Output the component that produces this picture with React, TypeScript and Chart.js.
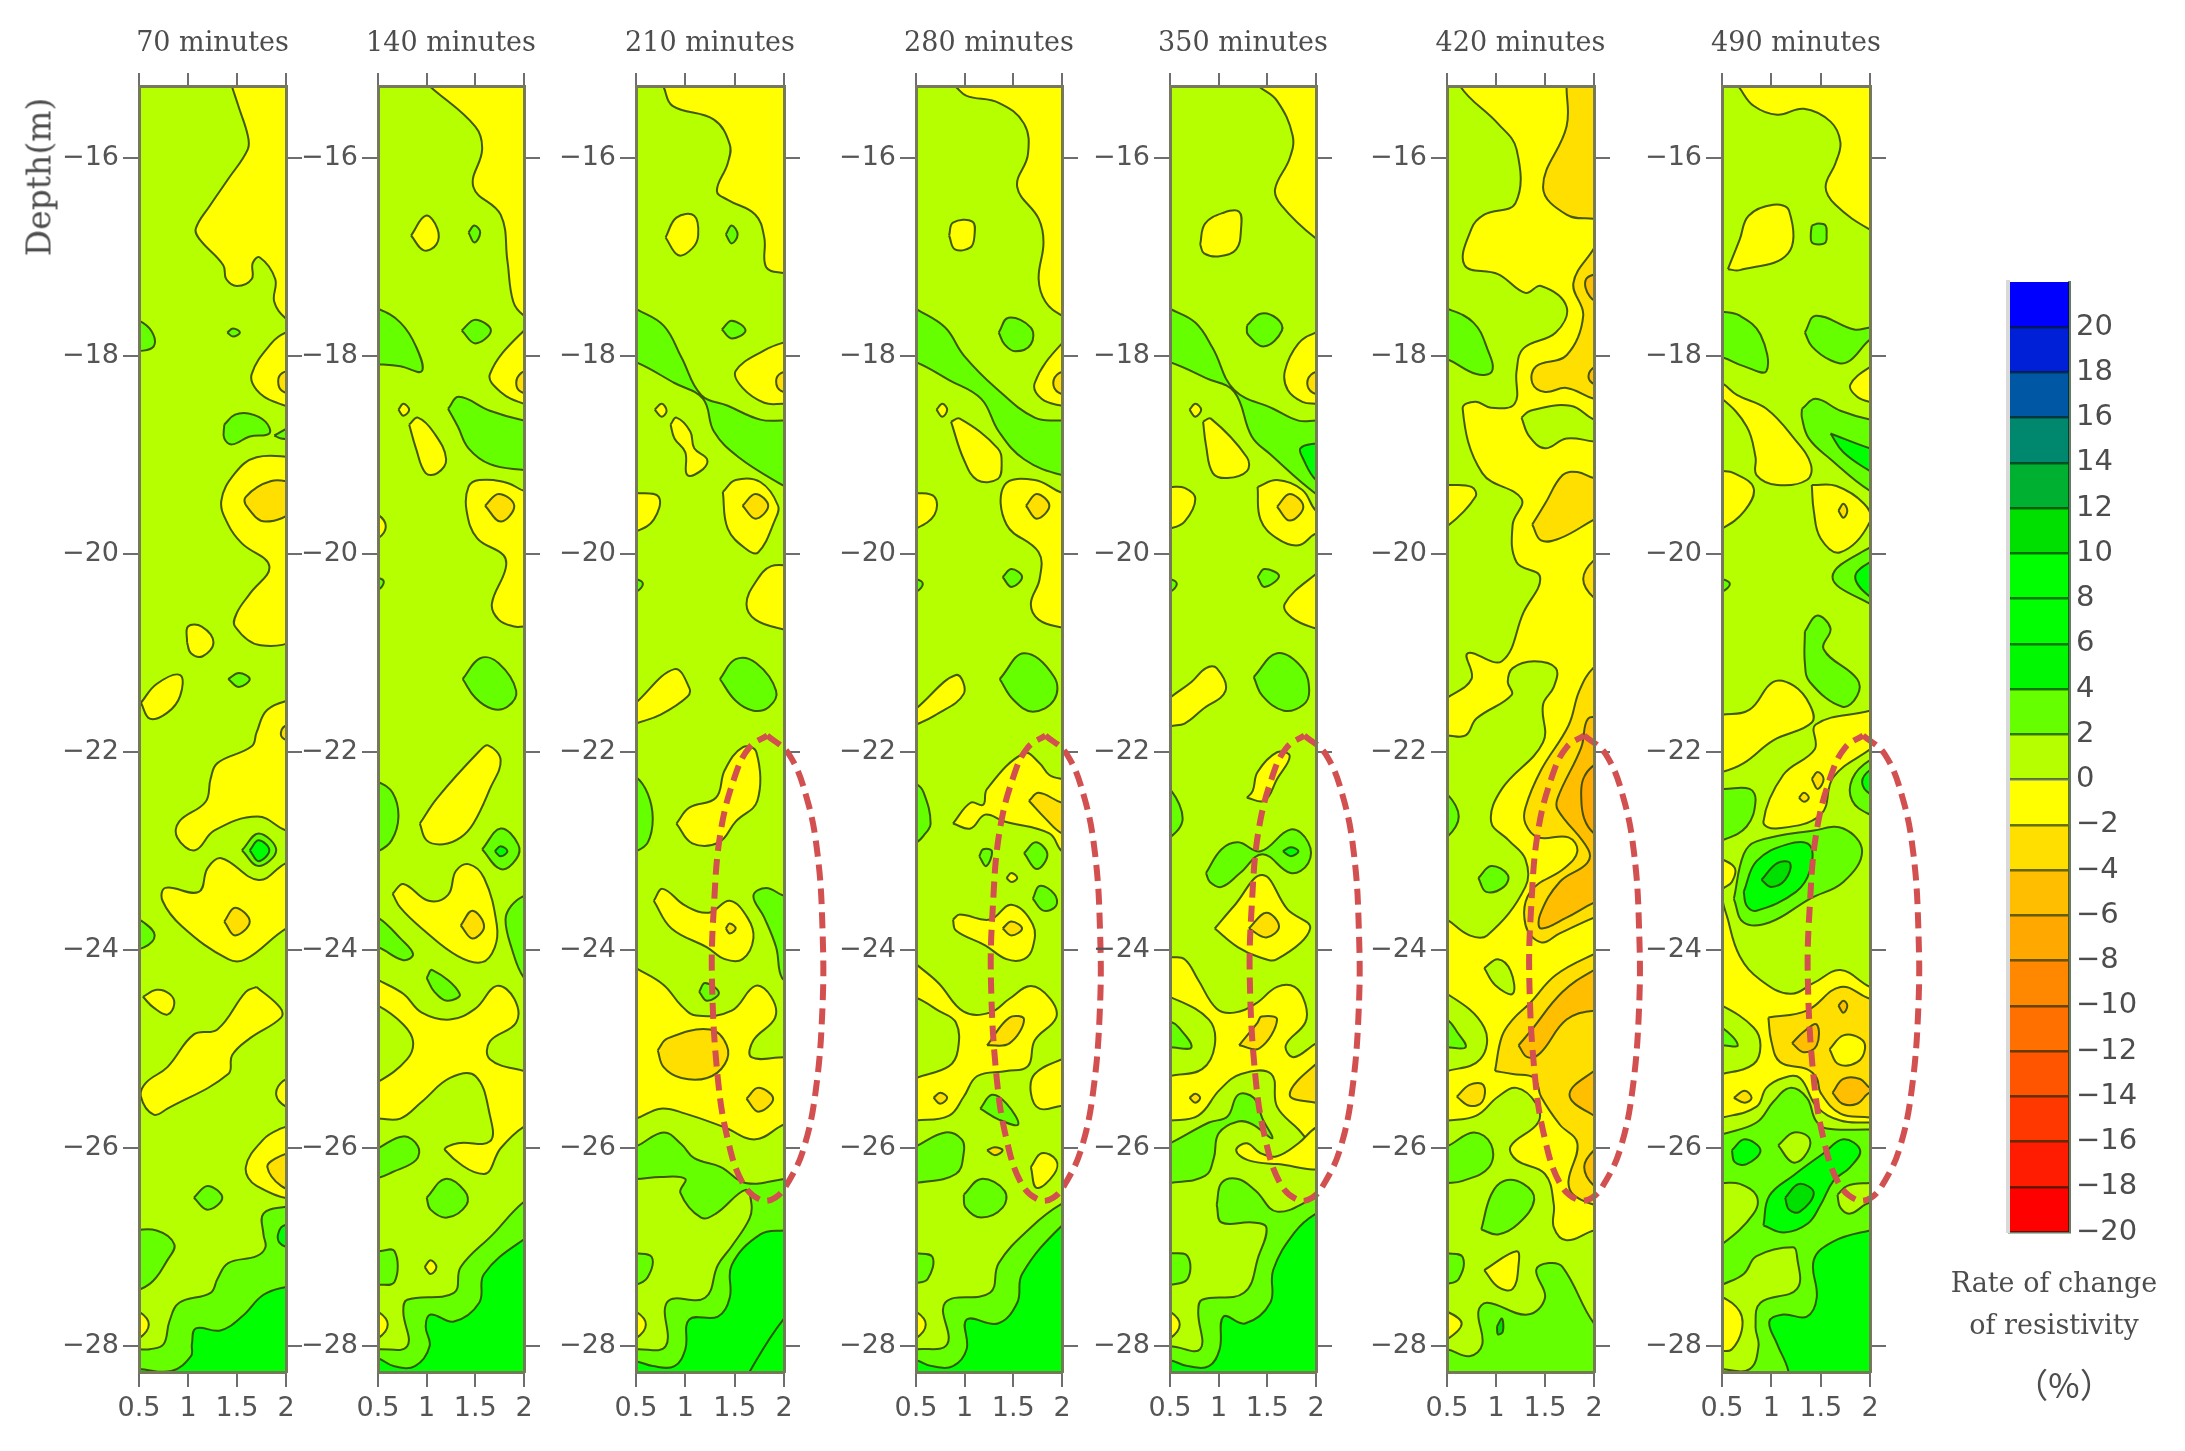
import React, { useEffect, useRef } from "react";
import { Chart, registerables } from "chart.js";
Chart.register(...registerables);

type Region = [number, number[]];

const panelMinutes = [70, 140, 210, 280, 350, 420, 490];
const depthTicks = [-16, -18, -20, -22, -24, -26, -28];
const offsetTicks = [0.5, 1, 1.5, 2];
const legendTicks = [20, 18, 16, 14, 12, 10, 8, 6, 4, 2, 0, -2, -4, -6, -8, -10, -12, -14, -16, -18, -20];
const bandLows = [20, 18, 16, 14, 12, 10, 8, 6, 4, 2, 0, -2, -4, -6, -8, -10, -12, -14, -16, -18, -20];
const bandColors = ["#0000ff", "#0020d8", "#0058a4", "#00886e", "#00b030", "#00e000", "#00ff00", "#00ff00", "#00f800", "#66ff00", "#b6ff00", "#ffff00", "#ffdf00", "#ffbf00", "#ffa800", "#ff8800", "#ff7000", "#ff5500", "#ff3800", "#ff1c00", "#ff0000"];
const levelColors: Record<number, string> = { 0: "#b6ff00", 1: "#66ff00", 2: "#00ff00", 3: "#00e000", [-1]: "#ffff00", [-2]: "#ffdf00", [-3]: "#ffbf00", [-4]: "#ffa800" };

const ellipseX = [1.83, 2.05, 2.23, 2.34, 2.39, 2.39, 2.32, 2.2, 2.05, 1.91, 1.76, 1.58, 1.43, 1.33, 1.27, 1.29, 1.36, 1.51, 1.65, 1.83];
const ellipseDepth = [21.83, 22.02, 22.46, 23.03, 23.78, 24.58, 25.43, 26, 26.33, 26.5, 26.52, 26.35, 25.91, 25.3, 24.3, 23.55, 22.79, 22.22, 21.95, 21.83];
const ellipseShift = [null, null, 0, 0, 0.05, 0.07, 0.1];

const tinyYellowLeft = [.4,27.65,.5,27.65,.6,27.78,.5,27.92,.4,27.92];
const tinyGreenLeft = [.4,20.25,.5,20.25,.57,20.3,.5,20.38,.4,20.38];

const regions70: Region[] = [
  [-1,[1.45,15.28,1.52,15.49,1.61,15.77,1.61,15.91,1.41,16.21,1.23,16.47,1.08,16.71,1.12,16.82,1.36,17.08,1.39,17.22,1.5,17.29,1.65,17.22,1.66,17.06,1.73,17,1.89,17.22,1.88,17.45,2,17.62,2.1,17.65,2.1,15.1,1.45,15.1]],
  [1,[.4,17.64,.5,17.64,.63,17.75,.65,17.9,.5,17.95,.4,17.95]],
  [1,[1.4,17.76,1.46,17.72,1.53,17.76,1.46,17.8]],
  [-1,[2.1,17.76,2,17.76,1.85,17.87,1.65,18.18,1.7,18.34,1.88,18.46,2.1,18.48]],
  [-2,[2.1,18.13,1.96,18.17,1.92,18.25,1.96,18.35,2.1,18.37]],
  [1,[1.37,18.69,1.48,18.59,1.63,18.58,1.79,18.66,1.83,18.78,1.63,18.81,1.45,18.89,1.37,18.83]],
  [1,[1.88,18.8,2.1,18.7,2.1,18.83,1.95,18.83]],
  [-1,[2.1,19.02,1.7,19.02,1.48,19.18,1.34,19.46,1.41,19.7,1.55,19.89,1.83,20.12,1.63,20.4,1.5,20.59,1.48,20.73,1.74,20.92,2.1,20.8]],
  [-2,[2.1,19.28,1.85,19.26,1.59,19.42,1.61,19.53,1.79,19.67,2.1,19.53]],
  [-1,[.99,20.89,1,20.73,1.14,20.73,1.26,20.89,1.15,21.03,1.03,21]],
  [1,[1.41,21.26,1.52,21.2,1.63,21.26,1.52,21.34]],
  [-1,[.52,21.5,.68,21.31,.92,21.22,.92,21.43,.79,21.6,.61,21.66]],
  [-1,[2.1,21.45,1.81,21.57,1.7,21.8,1.65,21.94,1.3,22.11,1.23,22.27,1.18,22.5,.91,22.7,.89,22.86,1.07,22.99,1.27,22.79,1.71,22.65,2,22.79,2.1,22.79]],
  [-2,[2.1,21.7,1.97,21.75,1.96,21.85,2.1,21.88]],
  [1,[1.55,22.99,1.72,22.82,1.9,22.99,1.72,23.15]],
  [2,[1.63,22.99,1.72,22.89,1.83,22.99,1.72,23.1]],
  [-1,[2.1,23.12,2,23.12,1.72,23.29,1.34,23.07,1.2,23.17,1.11,23.41,.77,23.37,.74,23.5,.94,23.76,1.41,24.09,1.59,24.09,2,23.78,2.1,23.78]],
  [-2,[1.37,23.71,1.48,23.57,1.63,23.71,1.48,23.85]],
  [1,[.4,23.65,.55,23.72,.66,23.85,.55,23.97,.4,23.97]],
  [-1,[.54,24.47,.68,24.4,.81,24.44,.86,24.54,.79,24.65,.65,24.58]],
  [-1,[1.7,24.37,1.59,24.42,1.3,24.8,1.06,24.85,.79,25.18,.57,25.34,.52,25.48,.65,25.66,.79,25.6,1.41,25.25,1.45,25.06,1.63,24.89,1.95,24.68,1.94,24.58]],
  [-1,[2.1,25.3,1.97,25.32,1.9,25.46,2,25.58,2.1,25.58]],
  [-1,[2.1,25.76,1.95,25.8,1.77,25.91,1.59,26.19,1.7,26.38,2.1,26.47]],
  [-2,[2.1,26.02,1.9,26.1,1.81,26.19,1.95,26.38,2.1,26.4]],
  [1,[1.06,26.5,1.2,26.38,1.35,26.5,1.2,26.62]],
  [1,[.4,26.83,.68,26.83,.86,26.97,.79,27.13,.61,27.37,.4,27.42]],
  [1,[2.1,26.59,2,26.59,1.77,26.66,1.77,26.87,1.79,27,1.7,27.09,1.41,27.16,1.3,27.32,1.23,27.46,.91,27.56,.81,27.75,.75,27.98,.61,28.03,.5,28.03,.4,28.03,.4,28.4,2.1,28.4]],
  [2,[2.1,26.75,1.95,26.8,1.93,26.95,2.1,27]],
  [2,[2.1,27.4,2,27.4,1.77,27.48,1.55,27.7,1.33,27.84,1.08,27.82,1.04,27.98,1.03,28.1,.83,28.25,.5,28.23,.4,28.23,.4,28.4,2.1,28.4]],
  [-1,tinyYellowLeft],
];

const regions140: Region[] = [
  [-1,[1.04,15.28,1.5,15.68,1.57,15.91,1.48,16.29,1.76,16.57,1.83,17.04,1.89,17.45,2,17.59,2.1,17.6,2.1,15.1,1.04,15.1]],
  [-1,[.84,16.78,.99,16.58,1.11,16.71,1.1,16.87,.97,16.93]],
  [1,[1.43,16.75,1.49,16.68,1.55,16.75,1.49,16.85]],
  [1,[.4,17.52,.5,17.52,.73,17.66,.89,17.9,.95,18.15,.73,18.1,.5,18.08,.4,18.08]],
  [1,[1.36,17.74,1.5,17.63,1.66,17.74,1.5,17.87]],
  [-1,[2.1,17.74,2,17.74,1.65,18.18,1.76,18.36,2,18.48,2.1,18.48]],
  [-2,[2.1,18.13,1.97,18.17,1.92,18.27,1.97,18.36,2.1,18.36]],
  [-1,[.71,18.54,.76,18.48,.82,18.54,.76,18.6]],
  [-1,[.82,18.69,.91,18.62,1.08,18.78,1.2,19.04,1.11,19.18,.99,19.18,.89,18.93]],
  [1,[1.22,18.53,1.33,18.41,1.65,18.55,2,18.65,2.1,18.65,2.1,19.15,2,19.15,1.65,19.09,1.43,18.93,1.32,18.71]],
  [-1,[2.1,19.36,2,19.36,1.83,19.28,1.54,19.25,1.43,19.32,1.41,19.56,1.52,19.84,1.79,20.01,1.81,20.15,1.67,20.5,1.74,20.66,1.9,20.73,2,20.73,2.1,20.73]],
  [-2,[1.6,19.51,1.74,19.39,1.9,19.51,1.76,19.67]],
  [-1,[.4,19.6,.5,19.6,.58,19.72,.5,19.84,.4,19.84]],
  [1,[.4,20.25,.5,20.24,.56,20.28,.5,20.36,.4,20.36]],
  [1,[1.37,21.26,1.55,21.05,1.74,21.1,1.92,21.38,1.83,21.54,1.67,21.56,1.5,21.45]],
  [-1,[.93,22.72,1.11,22.46,1.54,21.99,1.63,21.93,1.76,22.08,1.65,22.37,1.48,22.72,1.35,22.86,1.17,22.93,1,22.89]],
  [1,[.4,22.3,.5,22.3,.65,22.41,.71,22.65,.64,22.89,.5,23,.4,23]],
  [1,[1.57,22.98,1.76,22.77,1.94,22.93,1.92,23.08,1.76,23.18]],
  [2,[1.7,23,1.76,22.95,1.83,23,1.76,23.05]],
  [-1,[.65,23.43,.76,23.33,1.02,23.5,1.22,23.44,1.3,23.2,1.43,23.13,1.59,23.27,1.72,23.74,1.7,23.97,1.57,24.12,1.32,24.06,.95,23.78,.73,23.57]],
  [-2,[1.35,23.75,1.47,23.6,1.59,23.76,1.47,23.88]],
  [1,[2.1,23.45,2,23.45,1.87,23.55,1.81,23.69,1.87,23.97,2,24.28,2.1,24.28]],
  [1,[.4,23.67,.5,23.67,.73,23.88,.86,24.04,.76,24.1,.5,23.97,.4,23.97]],
  [1,[1,24.28,1.06,24.2,1.34,24.44,1.21,24.51,1.08,24.42]],
  [-1,[.5,24.3,.76,24.44,.95,24.63,1.24,24.7,1.5,24.59,1.72,24.36,1.9,24.49,1.92,24.73,1.65,24.92,1.65,25.1,2,25.22,2.1,25.22,2.1,25.78,2,25.78,1.76,26,1.59,26.26,1.19,26.02,1.32,25.95,1.65,25.93,1.65,25.67,1.5,25.27,1.24,25.29,.95,25.53,.73,25.7,.5,25.7,.4,25.7,.4,25.33,.5,25.33,.8,25.1,.86,24.92,.76,24.75,.5,24.56,.4,24.56,.4,24.3]],
  [1,[.4,26.05,.5,26,.76,25.88,.91,25.98,.89,26.12,.65,26.24,.5,26.3,.4,26.3]],
  [1,[1,26.5,1.19,26.31,1.39,26.43,1.41,26.57,1.21,26.7,1.04,26.62]],
  [1,[2.1,26.54,2,26.54,1.68,26.87,1.35,27.2,1.28,27.46,.8,27.53,.76,27.65,.8,28,.5,28.03,.4,28.03,.4,28.4,2.1,28.4]],
  [1,[.4,27.04,.5,27.04,.67,27.04,.67,27.35,.5,27.38,.4,27.38]],
  [-1,[.98,27.2,1.04,27.13,1.1,27.2,1.04,27.27]],
  [-1,tinyYellowLeft],
  [2,[2.1,26.92,2,26.92,1.59,27.27,1.54,27.56,1.28,27.75,1.04,27.68,.99,27.8,1.03,28,.88,28.2,.66,28.2,.5,28.12,.4,28.12,.4,28.4,2.1,28.4]],
];

const regions210: Region[] = [
  [-1,[.78,15.28,.87,15.47,1.29,15.61,1.45,15.86,1.43,16.05,1.32,16.33,1.43,16.42,1.71,16.57,1.8,16.8,1.82,17.1,2,17.16,2.1,17.16,2.1,15.1,.78,15.1]],
  [-1,[.8,16.8,.91,16.6,1.09,16.58,1.13,16.78,1.07,16.91,.93,16.98]],
  [1,[1.41,16.77,1.47,16.68,1.53,16.77,1.47,16.86]],
  [1,[.5,17.52,.78,17.69,.96,18.01,1.16,18.39,1.43,18.5,1.76,18.64,2,18.65,2.1,18.65,2.1,19.35,2,19.31,1.54,19.02,1.29,18.76,1.18,18.43,.89,18.27,.5,18.06,.4,18.06,.4,17.52]],
  [1,[1.37,17.73,1.47,17.64,1.61,17.74,1.47,17.82]],
  [-1,[2.1,17.85,2,17.86,1.8,17.94,1.51,18.15,1.58,18.32,1.8,18.47,2,18.48,2.1,18.48]],
  [-2,[2.1,18.15,1.97,18.17,1.92,18.25,1.97,18.35,2.1,18.35]],
  [-1,[.69,18.54,.76,18.48,.81,18.55,.76,18.61]],
  [-1,[.85,18.69,.91,18.62,1.05,18.76,1.09,18.93,1.22,19.04,1.18,19.14,1.02,19.2,1,18.97,.89,18.83]],
  [-1,[1.38,19.37,1.51,19.25,1.76,19.27,1.94,19.51,1.91,19.65,1.74,19.98,1.62,19.95,1.43,19.74]],
  [-2,[1.58,19.51,1.71,19.39,1.84,19.51,1.71,19.64]],
  [-1,[.4,19.38,.5,19.38,.73,19.42,.68,19.65,.5,19.77,.4,19.77]],
  [-1,[2.1,20.12,1.87,20.12,1.72,20.27,1.62,20.5,1.71,20.66,2,20.76,2.1,20.76]],
  [1,tinyGreenLeft],
  [1,[1.35,21.26,1.51,21.06,1.72,21.1,1.92,21.38,1.85,21.54,1.69,21.58,1.51,21.48]],
  [-1,[.4,21.6,.5,21.5,.89,21.16,1.04,21.35,1.02,21.44,.75,21.62,.5,21.71,.4,21.75]],
  [1,[.4,22.25,.5,22.25,.62,22.42,.67,22.67,.62,22.91,.5,23,.4,23]],
  [-1,[.91,22.72,1.04,22.56,1.31,22.46,1.4,22.18,1.58,21.95,1.72,22,1.73,22.49,1.51,22.7,1.34,22.91,1.07,22.92]],
  [-1,[.68,23.5,.77,23.38,1,23.55,1.24,23.62,1.45,23.5,1.63,23.67,1.69,23.88,1.58,24.09,1.4,24.09,1.22,23.97,.86,23.78]],
  [-2,[1.41,23.78,1.45,23.73,1.51,23.78,1.45,23.83]],
  [1,[2.1,23.45,2,23.45,1.82,23.37,1.69,23.45,1.8,23.67,1.92,23.97,1.98,24.28,2.1,24.28]],
  [1,[1.14,24.42,1.2,24.33,1.34,24.43,1.22,24.51]],
  [-1,[.5,24.18,.78,24.35,.96,24.56,1.11,24.66,1.47,24.61,1.71,24.36,1.87,24.47,1.91,24.68,1.69,24.91,1.67,25.08,2,25.08,2.1,25.08,2.1,25.75,2,25.76,1.71,25.91,1.4,25.79,1,25.65,.75,25.6,.5,25.7,.4,25.7,.4,24.18]],
  [-2,[.72,25.01,.82,24.89,1.25,24.8,1.42,24.96,1.4,25.15,1.22,25.29,.96,25.29,.78,25.18]],
  [-2,[1.62,25.5,1.74,25.39,1.89,25.5,1.74,25.63]],
  [1,[.4,25.98,.5,25.98,.78,25.84,.96,25.96,1.09,26.1,1.36,26.19,1.61,26.35,2,26.31,2.1,26.28,2.1,28.4,.4,28.4]],
  [0,[.4,26.3,.5,26.31,.75,26.29,1,26.31,.95,26.45,1.16,26.7,1.31,26.66,1.61,26.42,1.67,26.56,1.65,26.71,1.47,26.99,1.33,27.18,1.2,27.51,.82,27.55,.8,28,.5,28.03,.4,28.03]],
  [2,[2.1,26.83,2,26.83,1.76,26.87,1.47,27.18,1.45,27.51,1.33,27.7,1.04,27.73,1,28.03,.89,28.2,.67,28.2,.5,28.15,.4,28.15,.4,28.4,2.1,28.4]],
  [2,[2.1,27.7,2,27.72,1.65,28.26,1.6,28.4,2.1,28.4]],
  [1,[.4,27.06,.5,27.06,.66,27.1,.62,27.3,.5,27.38,.4,27.38]],
  [-1,tinyYellowLeft],
];

const regions280: Region[] = [
  [-1,[.91,15.28,1.02,15.37,1.35,15.44,1.61,15.65,1.65,15.96,1.54,16.29,1.76,16.61,1.81,16.85,1.76,17.22,1.83,17.45,2,17.59,2.1,17.6,2.1,15.1,.91,15.1]],
  [-1,[.84,16.78,.88,16.65,1.08,16.64,1.1,16.79,1.06,16.9,.9,16.92]],
  [1,[1.35,17.76,1.45,17.61,1.68,17.71,1.68,17.88,1.52,17.95,1.41,17.88]],
  [1,[.5,17.52,.8,17.71,.99,17.99,1.32,18.32,1.72,18.62,2,18.65,2.1,18.65,2.1,19.16,2,19.2,1.61,19.04,1.35,18.76,1.17,18.43,.84,18.24,.5,18.06,.4,18.06,.4,17.52]],
  [-1,[2.1,17.87,2,17.87,1.72,18.27,1.79,18.43,2,18.5,2.1,18.5]],
  [-2,[2.1,18.15,1.97,18.17,1.91,18.27,1.97,18.37,2.1,18.37]],
  [-1,[.71,18.54,.77,18.48,.82,18.54,.77,18.61]],
  [-1,[.86,18.66,.95,18.63,1.34,18.93,1.38,19.09,1.34,19.24,1.13,19.25,.99,19.04]],
  [-1,[2.1,19.38,2,19.38,1.72,19.25,1.41,19.3,1.43,19.7,1.76,19.98,1.77,20.25,1.68,20.5,1.76,20.66,2,20.74,2.1,20.74]],
  [-2,[1.63,19.51,1.74,19.39,1.87,19.51,1.74,19.64]],
  [-1,[.4,19.38,.5,19.38,.69,19.42,.69,19.6,.5,19.74,.4,19.74]],
  [1,[1.39,20.23,1.48,20.15,1.59,20.23,1.48,20.33]],
  [1,tinyGreenLeft],
  [1,[1.36,21.26,1.61,21,1.92,21.24,1.92,21.47,1.7,21.59,1.5,21.47]],
  [-1,[.4,21.63,.5,21.56,.91,21.22,.99,21.41,.69,21.63,.5,21.72,.4,21.75]],
  [1,[.4,22.32,.5,22.32,.58,22.41,.65,22.72,.58,22.84,.5,22.91,.4,22.91]],
  [-1,[.88,22.72,1.06,22.51,1.19,22.53,1.23,22.37,1.61,22.01,1.77,22.11,1.87,22.23,2,22.27,2.1,22.27,2.1,23,2,23,1.87,22.82,1.41,22.7,1.21,22.63,1.06,22.77]],
  [-2,[1.66,22.49,1.76,22.41,2,22.51,2.1,22.51,2.1,22.8,2,22.82,1.83,22.67]],
  [1,[1.15,23.05,1.19,22.98,1.28,23,1.22,23.15]],
  [1,[1.61,23.02,1.73,22.91,1.85,23.03,1.74,23.18]],
  [-1,[1.43,23.27,1.48,23.22,1.54,23.27,1.48,23.31]],
  [1,[1.7,23.48,1.77,23.35,1.92,23.43,1.94,23.55,1.81,23.6]],
  [-1,[.88,23.69,.95,23.64,1.26,23.69,1.48,23.54,1.7,23.74,1.7,23.97,1.61,24.09,1.43,24.09,1.21,23.95,.91,23.8]],
  [-2,[1.39,23.78,1.48,23.71,1.59,23.78,1.48,23.85]],
  [-1,[.5,24.14,.73,24.33,.99,24.62,1.26,24.63,1.46,24.49,1.68,24.36,1.88,24.49,1.94,24.68,1.72,24.91,1.65,25.17,1.43,25.22,1.13,25.27,.99,25.48,.84,25.67,.5,25.72,.4,25.72,.4,25.33,.5,25.29,.84,25.17,.93,25.01,.91,24.73,.73,24.61,.5,24.48,.4,24.48,.4,24.14]],
  [-2,[1.23,24.96,1.46,24.68,1.61,24.7,1.46,24.94]],
  [-2,[.68,25.49,.75,25.44,.82,25.49,.75,25.55]],
  [-1,[2.1,25.08,2,25.1,1.72,25.25,1.68,25.44,1.77,25.6,2,25.57,2.1,25.57]],
  [1,[1.16,25.6,1.28,25.46,1.43,25.55,1.55,25.76,1.35,25.71]],
  [1,[.4,26.02,.5,25.98,.8,25.84,.97,25.91,.99,26.05,.91,26.26,.5,26.35,.4,26.35]],
  [-2,[1.23,26.02,1.31,25.99,1.39,26.02,1.31,26.07]],
  [-1,[1.68,26.19,1.79,26.05,1.94,26.12,1.92,26.26,1.74,26.4]],
  [1,[.99,26.47,1.17,26.31,1.41,26.43,1.39,26.6,1.17,26.7,1.01,26.6]],
  [1,[2.1,26.56,2,26.56,1.68,26.8,1.35,27.16,1.26,27.46,.8,27.56,.82,27.98,.5,28.03,.4,28.03,.4,28.4,2.1,28.4]],
  [1,[.4,27.06,.5,27.06,.67,27.1,.62,27.32,.5,27.36,.4,27.36]],
  [-1,tinyYellowLeft],
  [2,[2.1,26.78,2,26.78,1.59,27.27,1.54,27.56,1.34,27.77,1.02,27.73,1.02,28.03,.88,28.2,.66,28.2,.5,28.14,.4,28.14,.4,28.4,2.1,28.4]],
];

const regions350: Region[] = [
  [-1,[1.42,15.28,1.6,15.42,1.76,15.77,1.73,16,1.58,16.31,1.64,16.47,2,16.81,2.1,16.82,2.1,15.1,1.42,15.1]],
  [-1,[.81,16.87,.86,16.66,1.05,16.55,1.21,16.54,1.23,16.71,1.18,16.92,1.01,16.99,.85,16.96]],
  [1,[1.29,17.69,1.43,17.57,1.6,17.62,1.65,17.74,1.47,17.9,1.3,17.78]],
  [1,[.5,17.52,.76,17.66,.94,17.92,1.16,18.34,1.56,18.53,1.82,18.65,2,18.65,2.1,18.65,2.1,19.4,2,19.39,1.53,18.99,1.34,18.81,1.16,18.36,.87,18.22,.5,18.06,.4,18.06,.4,17.52]],
  [2,[2.1,18.88,2,18.88,1.84,18.93,1.87,19.04,2,19.25,2.1,19.25]],
  [-1,[2.1,17.76,2,17.76,1.82,17.87,1.68,18.15,1.71,18.34,1.86,18.46,2,18.48,2.1,18.48]],
  [-2,[2.1,18.15,1.97,18.17,1.91,18.27,1.97,18.37,2.1,18.37]],
  [-1,[.7,18.54,.76,18.48,.82,18.54,.76,18.61]],
  [-1,[.84,18.66,.92,18.63,1.29,19.02,1.29,19.16,1.09,19.23,.94,19.18,.87,18.9]],
  [-1,[1.4,19.32,1.6,19.25,1.86,19.35,2,19.56,2.1,19.56,2.1,19.8,2,19.79,1.82,19.91,1.6,19.84,1.43,19.65]],
  [-2,[1.6,19.52,1.73,19.39,1.87,19.52,1.73,19.66]],
  [-1,[.4,19.32,.5,19.32,.65,19.33,.76,19.44,.65,19.67,.5,19.74,.4,19.74]],
  [1,[1.4,20.23,1.47,20.15,1.62,20.22,1.47,20.33]],
  [1,tinyGreenLeft],
  [-1,[2.1,20.17,2,20.2,1.68,20.5,1.75,20.64,2,20.75,2.1,20.75]],
  [1,[1.36,21.24,1.6,21,1.86,21.15,1.93,21.38,1.87,21.52,1.67,21.58,1.45,21.43]],
  [-1,[.4,21.55,.5,21.45,.72,21.29,.87,21.15,.98,21.15,1.07,21.38,.83,21.57,.65,21.71,.5,21.74,.4,21.8]],
  [1,[.4,22.37,.5,22.37,.63,22.67,.5,22.86,.4,22.86]],
  [-1,[1.29,22.46,1.35,22.39,1.4,22.2,1.6,22,1.73,22.04,1.6,22.27,1.47,22.49]],
  [1,[.87,23.22,1.03,22.98,1.2,22.91,1.43,23,1.74,22.78,1.92,22.91,1.92,23.12,1.74,23.22,1.45,23.03,1.22,23.22,1.03,23.36,.91,23.31]],
  [2,[1.66,23,1.74,22.96,1.82,23,1.74,23.05]],
  [-1,[.96,23.78,1.16,23.55,1.45,23.24,1.71,23.59,1.94,23.78,1.6,24.09,1.42,24.07,1.2,23.97]],
  [-2,[1.31,23.78,1.49,23.62,1.62,23.76,1.49,23.87]],
  [-1,[.5,24.07,.65,24.09,.79,24.3,.98,24.59,1.16,24.63,1.38,24.54,1.6,24.37,1.78,24.37,1.89,24.54,1.89,24.73,1.69,24.96,1.77,25.08,2,24.94,2.1,24.9,2.1,26,2,26,1.82,25.81,1.6,25.58,1.54,25.25,1.23,25.25,1.01,25.41,.79,25.67,.5,25.72,.4,25.72,.4,25.3,.5,25.27,.83,25.2,.96,24.96,.9,24.7,.5,24.47,.4,24.47,.4,24.07]],
  [-1,[2.1,25.79,2,25.79,1.82,25.95,1.6,26.08,1.43,26.05,1.29,25.95,1.18,26.02,1.3,26.12,1.6,26.16,2.1,26.18]],
  [-2,[1.21,24.96,1.4,24.73,1.44,24.67,1.6,24.7,1.42,24.99]],
  [-2,[2.1,25.15,2,25.15,1.73,25.46,2,25.54,2.1,25.54]],
  [-2,[.7,25.49,.76,25.45,.81,25.49,.76,25.54]],
  [1,[.4,25.98,.5,25.95,.9,25.74,1.09,25.68,1.2,25.46,1.36,25.49,1.45,25.7,1.55,25.9,1.35,25.76,1.2,25.73,1,25.85,.95,26.1,.86,26.28,.5,26.35,.4,26.35]],
  [1,[.4,24.72,.5,24.72,.59,24.78,.72,24.98,.5,24.98,.4,24.98]],
  [1,[.98,26.57,1.03,26.35,1.2,26.31,1.38,26.43,1.6,26.64,2,26.5,2.1,26.48,2.1,28.4,.4,28.4,.4,28.03,.5,28,.81,28.03,.79,27.65,.83,27.53,1.26,27.46,1.41,27.09,1.49,26.8,1.35,26.75,1.03,26.75]],
  [1,[.4,27.06,.5,27.06,.68,27.09,.68,27.32,.5,27.38,.4,27.38]],
  [-1,tinyYellowLeft],
  [2,[2.1,26.66,2,26.66,1.78,26.85,1.56,27.23,1.53,27.56,1.27,27.77,1.05,27.7,1.01,28.03,.9,28.2,.68,28.2,.5,28.14,.4,28.14,.4,28.4,2.1,28.4]],
];

const regions420: Region[] = [
  [-1,[.64,15.1,.64,15.28,1.02,15.65,1.21,15.91,1.2,16.45,.88,16.57,.75,16.71,.68,17.08,1.02,17.17,1.3,17.36,1.46,17.29,1.72,17.5,1.61,17.76,1.28,17.92,1.21,18.15,1.19,18.48,.95,18.52,.79,18.46,.66,18.53,.86,19.18,1.26,19.44,1.17,19.7,1.21,20.08,1.45,20.23,1.28,20.59,1.06,21.08,.71,21,.75,21.26,.5,21.45,.4,21.5,.4,21.83,.5,21.83,.69,21.83,.8,21.66,1.16,21.42,1.12,21.29,1.17,21.15,1.39,21.08,1.61,21.15,1.59,21.34,1.48,21.52,1.48,21.9,1.06,22.37,.95,22.7,1.13,22.89,1.3,23.08,1.3,23.36,.91,23.85,.73,23.85,.5,23.69,.4,23.65,.4,24.48,.5,24.44,.88,24.78,.84,25.1,.5,25.22,.4,25.22,.4,25.72,.5,25.72,.8,25.67,1.02,25.48,1.21,25.39,1.41,25.55,1.43,25.74,1.15,25.98,1.21,26.12,1.5,26.26,1.59,26.57,1.59,26.8,1.72,26.93,2,26.83,2.1,26.83,2.1,15.1]],
  [0,[.88,24.18,1.02,24.09,1.15,24.21,1.17,24.44,.99,24.35]],
  [0,[1.26,18.62,1.35,18.55,1.76,18.5,2,18.64,2.1,18.64,2.1,18.86,2,18.86,1.72,18.83,1.5,18.93,1.34,18.81]],
  [1,[.4,17.52,.5,17.52,.77,17.66,.91,17.92,.96,18.15,.8,18.18,.5,18.03,.4,18.03]],
  [-1,[.4,19.3,.5,19.3,.75,19.32,.79,19.42,.5,19.72,.4,19.72]],
  [-2,[1.72,15.1,1.72,15.28,1.72,15.68,1.48,16.29,1.72,16.57,2,16.61,2.1,16.61,2.1,15.1]],
  [-2,[2,16.91,1.79,17.26,1.89,17.59,1.72,17.99,1.41,18.1,1.37,18.27,1.5,18.36,1.72,18.32,2,18.43,2.1,18.43,2.1,16.91]],
  [-3,[2.1,17.15,1.92,17.22,1.96,17.4,2.1,17.45]],
  [-3,[2.1,18.05,1.96,18.15,1.96,18.25,2.1,18.3]],
  [-2,[1.37,19.7,1.5,19.49,1.68,19.2,1.83,19.17,2,19.23,2.1,19.23,2.1,19.6,2,19.65,1.65,19.84,1.46,19.86]],
  [-2,[2.1,20.06,2,20.06,1.89,20.25,2,20.44,2.1,20.44]],
  [-2,[2.1,21.14,2,21.14,1.85,21.38,1.74,21.73,1.46,22.18,1.3,22.56,1.3,22.72,1.43,22.86,1.74,22.86,1.83,23,1.7,23.17,1.35,23.41,1.3,23.74,1.46,23.92,1.65,23.83,2,23.67,2.1,23.65]],
  [-3,[2.1,21.66,1.94,21.66,1.87,21.95,1.63,22.46,1.63,22.58,1.94,22.98,1.93,23.12,1.65,23.31,1.45,23.64,1.46,23.78,1.72,23.67,2,23.52,2.1,23.5]],
  [-4,[2.1,22.12,2,22.13,1.89,22.27,1.87,22.46,1.9,22.67,2,22.82,2.1,22.84]],
  [-2,[.99,25.22,1.06,24.87,1.17,24.7,1.35,24.53,1.61,24.25,2,24.04,2.1,24.02,2.1,26.57,2,26.57,1.79,26.47,1.74,26.33,1.83,25.95,1.65,25.76,1.46,25.48,1.39,25.29,1.17,25.25]],
  [-3,[1.23,24.96,1.35,24.82,1.68,24.42,2,24.2,2.1,24.18,2.1,24.64,2,24.61,1.72,24.7,1.45,25.04,1.32,25.08]],
  [-3,[2.1,25.2,2,25.22,1.75,25.46,2,25.67,2.1,25.67]],
  [-3,[2.1,26,2,26.02,1.9,26.19,2,26.38,2.1,26.38]],
  [1,[.82,23.27,.95,23.15,1.12,23.24,1.08,23.36,.9,23.41]],
  [1,[.4,22.42,.5,22.42,.62,22.65,.5,22.86,.4,22.86]],
  [1,[.4,24.7,.5,24.7,.6,24.82,.69,24.98,.5,24.98,.4,24.98]],
  [-2,[.6,25.48,.73,25.36,.87,25.36,.86,25.53,.73,25.57]],
  [1,[.4,25.98,.5,25.98,.77,25.84,.95,25.96,.93,26.19,.66,26.33,.5,26.35,.4,26.35]],
  [1,[.85,26.82,.95,26.47,1.08,26.33,1.28,26.36,1.39,26.52,1.23,26.76,1.02,26.87]],
  [-1,[.88,27.23,1.21,27.04,1.23,27.18,1.17,27.42,1.02,27.4]],
  [1,[.4,27.06,.5,27.06,.66,27.1,.62,27.32,.5,27.37,.4,27.37]],
  [-1,[.4,27.65,.5,27.65,.65,27.77,.5,27.93,.4,27.93]],
  [1,[2.1,27.77,2,27.77,1.68,27.2,1.54,27.16,1.41,27.23,1.5,27.51,1.32,27.68,.91,27.56,.82,27.65,.86,27.98,.73,28.1,.5,28.03,.4,28.03,.4,28.4,2.1,28.4]],
  [3,[1.01,27.8,1.06,27.72,1.07,27.85,1.02,27.88]],
];

const regions490: Region[] = [
  [-1,[.67,15.28,.82,15.47,1.06,15.56,1.33,15.5,1.6,15.63,1.7,15.84,1.65,16.05,1.55,16.29,1.65,16.47,2,16.72,2.1,16.72,2.1,15.1,.67,15.1]],
  [-1,[.56,17.12,.68,16.82,.77,16.58,1.02,16.47,1.18,16.53,1.17,16.96,.68,17.13]],
  [1,[1.41,16.68,1.48,16.66,1.55,16.68,1.56,16.77,1.55,16.85,1.48,16.87,1.41,16.85,1.4,16.77]],
  [1,[.4,17.55,.5,17.55,.68,17.59,.89,17.78,.95,18.15,.72,18.1,.5,18.01,.4,18.01]],
  [1,[1.34,17.76,1.45,17.59,1.84,17.73,2,17.71,2.1,17.71,2.1,17.8,2,17.83,1.77,18.06,1.6,18.04,1.41,17.9]],
  [-1,[2.1,18.1,2,18.11,1.8,18.29,1.87,18.41,2,18.46,2.1,18.46]],
  [-1,[.4,18.25,.5,18.27,.65,18.39,.95,18.53,1.23,18.83,1.4,19.09,1.36,19.25,1.06,19.3,.85,19.2,.84,19.02,.75,18.71,.5,18.43,.4,18.43]],
  [1,[1.31,18.53,1.45,18.43,1.7,18.55,2,18.64,2.1,18.64,2.1,19.35,2,19.36,1.6,19.04,1.38,18.83,1.31,18.62]],
  [2,[1.6,18.78,2,18.93,2.1,18.95,2.1,19.2,2,19.16,1.73,18.97]],
  [-1,[1.41,19.3,1.66,19.31,1.94,19.49,2,19.67,1.7,19.98,1.5,19.84,1.43,19.56]],
  [-2,[1.68,19.56,1.73,19.49,1.77,19.56,1.73,19.63]],
  [-1,[.4,19.16,.5,19.16,.62,19.18,.82,19.33,.73,19.56,.5,19.74,.4,19.74]],
  [1,[2.1,19.94,2,19.93,1.62,20.23,2,20.5,2.1,20.5]],
  [2,[2.1,20.08,2,20.08,1.85,20.23,2,20.43,2.1,20.43]],
  [1,[.4,20.25,.5,20.25,.58,20.3,.5,20.38,.4,20.38]],
  [1,[1.34,20.78,1.46,20.62,1.6,20.75,1.53,20.96,1.87,21.26,1.87,21.43,1.72,21.54,1.39,21.29,1.34,21.1]],
  [-1,[.4,21.62,.5,21.62,.78,21.57,1.02,21.29,1.23,21.33,1.39,21.52,1.41,21.7,1.02,21.88,.72,22.11,.5,22.2,.4,22.2]],
  [-1,[2.1,21.55,2,21.58,1.45,21.72,1.44,21.97,1.12,22.23,.92,22.7,1.05,22.77,1.5,22.63,1.63,22.25,2,21.97,2.1,21.9]],
  [-2,[1.41,22.27,1.47,22.2,1.53,22.27,1.47,22.37]],
  [-2,[1.28,22.46,1.33,22.41,1.38,22.46,1.33,22.5]],
  [1,[2.1,22.1,2,22.08,1.82,22.27,1.82,22.49,2,22.63,2.1,22.63]],
  [2,[2.1,22.17,2,22.18,1.92,22.3,2,22.42,2.1,22.42]],
  [1,[.4,22.35,.5,22.37,.78,22.37,.84,22.49,.75,22.75,.5,22.89,.4,22.89]],
  [-1,[.4,23.05,.5,23.08,.63,23.17,.6,23.31,.5,23.4,.56,23.69,.68,24.06,.89,24.3,1.19,24.44,1.43,24.33,1.7,24.2,2,24.37,2.1,24.37,2.1,25.74,2,25.74,1.7,25.72,1.46,25.58,1.29,25.29,1.12,25.29,.95,25.39,.85,25.58,.5,25.69,.4,25.69,.4,25.25,.5,25.25,.82,25.15,.89,24.96,.82,24.78,.5,24.56,.4,24.56,.4,23.4]],
  [1,[.4,24.78,.5,24.78,.66,24.96,.5,24.96,.4,24.96]],
  [1,[.62,23.48,.72,23.03,.85,22.9,1.43,22.79,1.73,22.77,1.92,23,1.73,23.31,1.39,23.48,.98,23.72,.72,23.72]],
  [2,[.72,23.41,.85,23.1,1.16,22.93,1.39,22.94,1.39,23.2,1.25,23.41,.85,23.6,.75,23.55]],
  [3,[.9,23.29,1.06,23.12,1.19,23.12,1.14,23.29,1,23.36]],
  [-2,[.97,24.68,1.36,24.61,1.7,24.37,2,24.49,2.1,24.49,2.1,25.72,2,25.69,1.7,25.65,1.5,25.44,1.46,25.29,1.36,25.2,1.09,25.13,1,24.92]],
  [-3,[1.21,24.94,1.33,24.82,1.46,24.75,1.46,24.96,1.33,25.03]],
  [-1,[1.59,25,1.73,24.86,1.9,24.89,1.95,24.99,1.87,25.13,1.68,25.15]],
  [-3,[1.68,24.56,1.73,24.51,1.77,24.56,1.73,24.63]],
  [-3,[1.62,25.44,1.73,25.3,1.9,25.3,2,25.39,2.1,25.39,2.1,25.5,2,25.44,1.87,25.55,1.72,25.55]],
  [-2,[.62,25.49,.73,25.42,.8,25.49,.73,25.54]],
  [1,[.5,25.86,.85,25.74,1.02,25.53,1.19,25.39,1.36,25.49,1.45,25.72,1.56,25.8,2,25.81,2.1,25.81,2.1,28.4,.4,28.4,.4,25.86]],
  [0,[.4,26.35,.5,26.35,.68,26.36,.85,26.48,.82,26.66,.5,26.97,.4,26.97]],
  [0,[.5,27.38,.72,27.27,.85,27.09,1.22,27,1.26,27.09,1.26,27.42,.89,27.56,.84,27.8,.87,28,.78,28.23,.5,28.23,.4,28.2,.4,27.38]],
  [0,[1.07,25.97,1.23,25.84,1.39,25.91,1.33,26.09,1.21,26.14]],
  [0,[1.67,26.47,1.77,26.38,2,26.35,2.1,26.35,2.1,26.62,2,26.55,1.8,26.66,1.7,26.6]],
  [-1,[.4,27.5,.5,27.5,.68,27.65,.7,27.84,.6,28.03,.5,28.05,.4,28.05]],
  [2,[.6,26.02,.73,25.91,.89,26.02,.75,26.16,.63,26.14]],
  [2,[.92,26.78,.98,26.48,1.23,26.27,1.53,26.05,1.73,25.91,1.9,26.02,1.8,26.19,1.63,26.33,1.5,26.57,1.37,26.76,1.13,26.85]],
  [3,[1.14,26.5,1.28,26.36,1.43,26.45,1.29,26.64,1.18,26.62]],
  [2,[2.1,26.83,2,26.83,1.63,26.94,1.43,27.13,1.46,27.51,1.36,27.7,1.12,27.68,.98,27.75,1.06,27.98,1.17,28.24,1.17,28.4,2.1,28.4]],
];

const panelRegions = [regions70, regions140, regions210, regions280, regions350, regions420, regions490];
const plotLefts = [139, 378, 636, 916, 1170, 1447, 1722];
const plotWidths = [147, 146, 148, 146, 146, 147, 148];
const PLOT_TOP = 86;
const PLOT_BOTTOM = 1372;
const PAGE_H = 1451;
const MARGIN_L = 130;
const MARGIN_R = 75;

const AXIS_COLOR = "#76785c";
const TEXT_COLOR = "#555555";
const fmt = (v: number) => (v < 0 ? "\u2212" + Math.abs(v) : String(v));

function pairs(flat: number[]) {
  const pts = [];
  for (let i = 0; i < flat.length; i += 2) pts.push({ x: flat[i], y: -flat[i + 1] });
  pts.push({ ...pts[0] });
  return pts;
}

function panelConfig(p: number): any {
  const ds: any[] = [{
    data: [{ x: 0.4, y: -15.1 }, { x: 2.1, y: -15.1 }, { x: 2.1, y: -28.4 }, { x: 0.4, y: -28.4 }, { x: 0.4, y: -15.1 }],
    showLine: true, fill: "shape", backgroundColor: levelColors[0], borderWidth: 0, pointRadius: 0, tension: 0,
  }];
  for (const [level, flat] of panelRegions[p]) {
    ds.push({
      data: pairs(flat), showLine: true, fill: "shape", backgroundColor: levelColors[level],
      borderColor: "rgba(50,70,0,0.9)", borderWidth: 2, pointRadius: 0, tension: 0.4, capBezierPoints: false,
    });
  }
  const shift = ellipseShift[p];
  if (shift !== null) {
    ds.push({
      data: ellipseX.map((x, i) => ({ x: x + shift, y: -ellipseDepth[i] })), showLine: true, fill: false,
      borderColor: "#d2504f", borderWidth: 6, borderDash: [16, 8], pointRadius: 0, tension: 0.4, clip: false, capBezierPoints: false,
    });
  }
  ds.reverse(); // Chart.js paints the first dataset last, so the background goes at the end of the list
  const fixH = (h: number) => (s: any) => { s.height = h; };
  const fixW = (w: number) => (s: any) => { s.width = w; };
  const setY = (s: any) => { s.ticks = depthTicks.map((value) => ({ value })); };
  const setX = (s: any) => { s.ticks = offsetTicks.map((value) => ({ value })); };
  const gridCfg = { drawOnChartArea: false, tickLength: 15, color: "#6e6e6e", lineWidth: 2 };
  const border = { color: AXIS_COLOR, width: 3, z: 1 };
  const tickFont = { family: "'DejaVu Sans'", size: 27 };
  return {
    type: "scatter",
    data: { datasets: ds },
    options: {
      animation: false, responsive: false, devicePixelRatio: 1,
      layout: { padding: 0 },
      plugins: { legend: { display: false }, tooltip: { enabled: false } },
      scales: {
        x: {
          type: "linear", position: "bottom", min: 0.5, max: 2, afterBuildTicks: setX, afterFit: fixH(PAGE_H - PLOT_BOTTOM),
          ticks: { font: tickFont, color: TEXT_COLOR, maxRotation: 0, autoSkip: false, padding: 6, callback: (v: number) => String(v) },
          grid: gridCfg, border,
        },
        xTop: {
          type: "linear", position: "top", min: 0.5, max: 2, afterBuildTicks: setX, afterFit: fixH(PLOT_TOP),
          ticks: { display: false }, grid: { ...gridCfg, tickLength: 13 }, border,
        },
        y: {
          type: "linear", position: "left", min: -28.26, max: -15.27, afterBuildTicks: setY, afterFit: fixW(MARGIN_L),
          ticks: { font: tickFont, color: TEXT_COLOR, padding: 4, autoSkip: false, callback: (v: number) => fmt(v) },
          grid: { ...gridCfg, tickLength: 16 }, border,
        },
        yRight: {
          type: "linear", position: "right", min: -28.26, max: -15.27, afterBuildTicks: setY, afterFit: fixW(MARGIN_R),
          ticks: { display: false }, grid: { ...gridCfg, tickLength: 16 }, border,
        },
      },
    },
  };
}

function legendConfig(): any {
  const fixW = (w: number) => (s: any) => { s.width = w; };
  const setTicks = (s: any) => { s.ticks = legendTicks.map((value) => ({ value })); };
  return {
    type: "bar",
    data: {
      labels: ["Rate of change of resistivity"],
      datasets: bandLows.map((lo, i) => ({
        data: [[lo, lo + 2]], backgroundColor: bandColors[i], borderWidth: 0, categoryPercentage: 1, barPercentage: 1, grouped: false,
      })),
    },
    options: {
      animation: false, responsive: false, devicePixelRatio: 1,
      layout: { padding: { top: 282, bottom: 1451 - 1232, left: 0, right: 0 } },
      plugins: { legend: { display: false }, tooltip: { enabled: false } },
      scales: {
        x: { display: false },
        y: {
          position: "right", min: -20, max: 22, afterBuildTicks: setTicks, afterFit: fixW(90),
          ticks: { font: { family: "'DejaVu Sans'", size: 29 }, color: "#4d4d4d", padding: 7, autoSkip: false, callback: (v: number) => fmt(v) },
          grid: { z: 1, color: "rgba(0,30,0,0.6)", lineWidth: 2.5, drawTicks: false },
          border: { color: "rgba(0,30,0,0.6)", width: 3, z: 1 },
        },
        yEdge: {
          position: "left", min: -20, max: 22, afterBuildTicks: setTicks, afterFit: fixW(10),
          ticks: { display: false }, grid: { drawOnChartArea: false, drawTicks: false },
          border: { color: "#d9d9d9", width: 4, z: 1 },
        },
      },
    },
  };
}

function ChartCanvas({ config, left, width }: { config: () => any; left: number; width: number }) {
  const ref = useRef<HTMLCanvasElement>(null);
  useEffect(() => {
    const chart = new Chart(ref.current as HTMLCanvasElement, config());
    return () => chart.destroy();
  }, []);
  return <canvas ref={ref} width={width} height={PAGE_H} style={{ position: "absolute", left, top: 0, width, height: PAGE_H, filter: "blur(0.7px)" }} />;
}

const serif: React.CSSProperties = { position: "absolute", fontFamily: "'DejaVu Serif'", color: "#4d4d4d", whiteSpace: "nowrap", lineHeight: 1, filter: "blur(0.5px)" };

export default function App() {
  return (
    <div style={{ position: "absolute", left: 0, top: 0, width: 2185, height: PAGE_H, background: "#fff", overflow: "hidden" }}>
      {panelMinutes.map((m, p) => (
        <ChartCanvas key={m} config={() => panelConfig(p)} left={plotLefts[p] - MARGIN_L} width={MARGIN_L + plotWidths[p] + MARGIN_R} />
      ))}
      <ChartCanvas config={legendConfig} left={1998} width={161} />
      {panelMinutes.map((m, p) => (
        <div key={m} style={{ ...serif, left: plotLefts[p] + plotWidths[p] / 2, top: 41, fontSize: 27, transform: "translate(-50%,-50%)" }}>{m + " minutes"}</div>
      ))}
      <div style={{ ...serif, left: 39, top: 177, fontSize: 33, transform: "translate(-50%,-50%) rotate(-90deg)" }}>Depth(m)</div>
      <div style={{ ...serif, left: 2054, top: 1282, fontSize: 27, transform: "translate(-50%,-50%)" }}>Rate of change</div>
      <div style={{ ...serif, left: 2054, top: 1324, fontSize: 27, transform: "translate(-50%,-50%)" }}>of resistivity</div>
      <div style={{ ...serif, left: 2064, top: 1384, fontSize: 34, fontFamily: "'Noto Sans CJK SC'", transform: "translate(-50%,-50%)" }}>（%）</div>
    </div>
  );
}
